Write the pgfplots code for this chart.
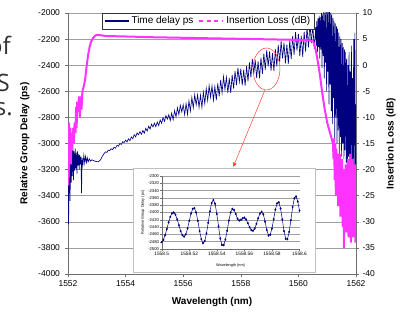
\documentclass[border=0pt]{standalone}
\usepackage{pgfplots}
\pgfplotsset{compat=1.18}
\usetikzlibrary{arrows.meta}
\usepackage{fontspec}
\setmainfont{Liberation Sans}
\newfontfamily\handfont{Open Sans}
\definecolor{navyb}{RGB}{0,0,128}
\definecolor{pinkm}{RGB}{255,51,255}
\definecolor{gridg}{RGB}{160,160,160}
\definecolor{axg}{RGB}{110,110,110}
\begin{document}
\begin{tikzpicture}[x=1pt,y=1pt]
\path (0,0) rectangle (401,316);

\begin{axis}[
  at={(68pt,42pt)}, anchor=south west,
  scale only axis, width=288pt, height=261pt,
  xmin=1552, xmax=1562, ymin=-4000, ymax=-2000,
  axis x line*=bottom, axis y line*=left,
  axis line style={-, axg, line width=0.6pt},
  xtick={1552,1554,1556,1558,1560,1562},
  xticklabels={1552,1554,1556,1558,1560,1562},
  ytick={-4000,-3800,-3600,-3400,-3200,-3000,-2800,-2600,-2400,-2200,-2000},
  yticklabels={-4000,-3800,-3600,-3400,-3200,-3000,-2800,-2600,-2400,-2200,-2000},
  tick align=outside, major tick length=3pt,
  tick style={axg, line width=0.6pt},
  tick label style={font=\fontsize{8.5}{10}\selectfont},
  yticklabel style={xshift=-1.5pt},
  ymajorgrids, major grid style={gridg, line width=0.6pt},
  xlabel={Wavelength (nm)}, ylabel={Relative Group Delay (ps)},
  label style={font=\bfseries\fontsize{10}{12}\selectfont},
  xlabel style={at={(axis description cs:0.5,-0.107)}, anchor=center},
  ylabel style={at={(axis description cs:-0.150,0.5)}, anchor=center},
]
\addplot[navyb, line width=0.65pt] table {
1552.00 -3100
1552.02 -3620
1552.04 -3180
1552.07 -3440
1552.09 -3120
1552.11 -3300
1552.13 -3050
1552.15 -3250
1552.17 -3030
1552.19 -3280
1552.21 -3060
1552.23 -3210
1552.25 -3040
1552.27 -3190
1552.29 -3070
1552.31 -3230
1552.33 -3060
1552.35 -3170
1552.37 -3080
1552.39 -3200
1552.41 -3090
1552.43 -3160
1552.45 -3100
1552.47 -3380
1552.49 -3110
1552.52 -3160
1552.55 -3090
1552.58 -3150
1552.61 -3100
1552.64 -3145
1552.67 -3110
1552.70 -3140
1552.74 -3118
1552.78 -3135
1552.83 -3125
1552.90 -3132
1552.97 -3138
1553.05 -3140
1553.12 -3128
1553.20 -3095
1553.25 -3078
1553.30 -3064
1553.35 -3068
1553.40 -3051
1553.45 -3054
1553.50 -3040
1553.55 -3046
1553.60 -3029
1553.65 -3036
1553.70 -3014
1553.75 -3021
1553.80 -3000
1553.85 -3007
1553.90 -2986
1553.95 -2993
1554.00 -2974
1554.05 -2988
1554.10 -2964
1554.15 -2978
1554.20 -2950
1554.25 -2963
1554.30 -2933
1554.35 -2949
1554.40 -2919
1554.45 -2933
1554.50 -2909
1554.55 -2930
1554.60 -2900
1554.65 -2921
1554.70 -2884
1554.75 -2904
1554.80 -2868
1554.85 -2889
1554.90 -2852
1554.95 -2873
1555.00 -2844
1555.05 -2871
1555.10 -2836
1555.15 -2863
1555.20 -2820
1555.25 -2845
1555.30 -2802
1555.35 -2830
1555.40 -2786
1555.45 -2813
1555.50 -2779
1555.55 -2824
1555.60 -2767
1555.65 -2818
1555.70 -2748
1555.75 -2796
1555.80 -2726
1555.85 -2778
1555.90 -2708
1555.95 -2758
1556.00 -2704
1556.05 -2779
1556.10 -2695
1556.15 -2777
1556.20 -2673
1556.25 -2751
1556.30 -2648
1556.35 -2727
1556.40 -2626
1556.45 -2705
1556.50 -2627
1556.55 -2723
1556.60 -2630
1556.65 -2723
1556.70 -2606
1556.75 -2695
1556.80 -2579
1556.85 -2670
1556.90 -2556
1556.95 -2646
1557.00 -2559
1557.05 -2668
1557.10 -2564
1557.15 -2668
1557.20 -2539
1557.25 -2639
1557.30 -2512
1557.35 -2611
1557.40 -2488
1557.45 -2586
1557.50 -2493
1557.55 -2611
1557.60 -2500
1557.65 -2612
1557.70 -2474
1557.75 -2580
1557.80 -2445
1557.85 -2553
1557.90 -2420
1557.95 -2527
1558.00 -2427
1558.05 -2555
1558.10 -2435
1558.15 -2556
1558.20 -2408
1558.25 -2523
1558.30 -2378
1558.35 -2494
1558.40 -2352
1558.45 -2467
1558.50 -2360
1558.55 -2498
1558.60 -2370
1558.65 -2501
1558.70 -2342
1558.75 -2466
1558.80 -2311
1558.85 -2436
1558.90 -2284
1558.95 -2408
1559.00 -2294
1559.05 -2442
1559.10 -2305
1559.15 -2445
1559.20 -2276
1559.25 -2409
1559.30 -2244
1559.35 -2377
1559.40 -2216
1559.45 -2348
1559.50 -2227
1559.55 -2385
1559.60 -2240
1559.65 -2390
1559.70 -2210
1559.75 -2352
1559.80 -2176
1559.85 -2320
1559.90 -2146
1559.95 -2289
1560.00 -2160
1560.05 -2330
1560.10 -2174
1560.15 -2336
1560.20 -2143
1560.25 -2296
1560.30 -2107
1560.35 -2263
1560.40 -2076
1560.45 -2231
1560.50 -2092
1560.55 -2276
1560.60 -2108
1560.62 -2250
1560.64 -2060
1560.66 -2300
1560.68 -2040
1560.70 -2260
1560.72 -2020
1560.74 -2350
1560.76 -2030
1560.78 -2280
1560.80 -2000
1560.82 -2420
1560.84 -2010
1560.86 -2330
1560.88 -1990
1560.90 -2500
1560.92 -2000
1560.94 -2380
1560.96 -1980
1560.98 -2600
1561.00 -1990
1561.02 -2450
1561.04 -1985
1561.06 -2700
1561.08 -1990
1561.10 -2550
1561.12 -2000
1561.14 -2750
1561.16 -2010
1561.18 -2850
1561.20 -2040
1561.22 -2650
1561.24 -2060
1561.26 -2980
1561.28 -2080
1561.30 -2800
1561.32 -2100
1561.34 -3000
1561.36 -2120
1561.38 -2900
1561.40 -2150
1561.42 -3080
1561.44 -2180
1561.46 -2950
1561.48 -2200
1561.50 -3100
1561.52 -2230
1561.54 -3000
1561.56 -2260
1561.58 -3120
1561.60 -2280
1561.62 -3050
1561.64 -2300
1561.66 -3150
1561.68 -2350
1561.70 -3200
1561.72 -2400
1561.74 -3100
1561.76 -2300
1561.78 -3230
1561.80 -2450
1561.82 -3180
1561.84 -2250
1561.86 -3220
1561.88 -2500
1561.90 -3200
1561.92 -2200
1561.94 -3230
1561.96 -2150
1561.98 -3200
1562.00 -2700
};
\coordinate (ellc) at (axis cs:1558.89,-2429);
\coordinate (arrs) at (axis cs:1558.84,-2590);
\coordinate (arre) at (axis cs:1557.74,-3178);
\end{axis}

\begin{axis}[
  at={(68pt,42pt)}, anchor=south west,
  scale only axis, width=288pt, height=261pt,
  xmin=1552, xmax=1562, ymin=-40, ymax=10,
  axis x line=none, axis y line*=right,
  axis line style={-, axg, line width=0.6pt},
  ytick={-40,-35,-30,-25,-20,-15,-10,-5,0,5,10},
  yticklabels={-40,-35,-30,-25,-20,-15,-10,-5,0,5,10},
  tick align=outside, major tick length=3pt,
  tick style={axg, line width=0.6pt},
  tick label style={font=\fontsize{8.5}{10}\selectfont},
  ylabel={Insertion Loss (dB)},
  label style={font=\bfseries\fontsize{10}{12}\selectfont},
  ylabel style={at={(axis description cs:1.1215,0.5)}, anchor=center},
  legend image code/.code={\draw[#1] (0pt,0pt) -- (24pt,0pt);},
  legend style={at={(axis description cs:0.118,1)}, anchor=north west,
    draw=black!80, line width=0.5pt, fill=white, inner sep=1.5pt,
    font=\fontsize{10}{11}\selectfont, legend columns=2,
    /tikz/every even column/.append style={column sep=3pt}},
]
\addlegendimage{navyb, line width=1.8pt}
\addlegendentry{Time delay ps}
\addlegendimage{pinkm, line width=2pt, dash pattern=on 4pt off 3.5pt}
\addlegendentry{Insertion Loss (dB)}
\addplot[pinkm, line width=2pt, forget plot] table {
1552.00 -12
1552.01 -23
1552.02 -14
1552.03 -20
1552.04 -11
1552.06 -17
1552.08 -12
1552.10 -19
1552.12 -13
1552.15 -16
1552.18 -12
1552.20 -15
1552.23 -11
1552.26 -13
1552.28 -8
1552.30 -12
1552.32 -7
1552.35 -9
1552.38 -6
1552.41 -10
1552.44 -6
1552.47 -8.5
1552.50 -5
1552.55 -4
1552.60 -2.5
1552.65 0
1552.70 2
1552.75 3.5
1552.80 4.5
1552.87 5.2
1552.95 5.7
1553.05 5.8
1553.30 5.6
1554.00 5.5
1555.00 5.35
1556.00 5.25
1557.00 5.15
1558.00 5.05
1559.00 4.95
1560.00 4.85
1560.40 4.75
1560.52 4.5
1560.60 3.0
1560.68 0.5
1560.75 -2
1560.82 -5
1560.90 -8
1561.00 -11
1561.10 -13
1561.20 -15
1561.22 -18
1561.24 -14
1561.26 -22
1561.28 -15
1561.30 -25
1561.32 -16
1561.34 -21
1561.36 -17
1561.38 -27
1561.40 -18
1561.42 -24
1561.44 -17
1561.46 -29
1561.48 -19
1561.50 -26
1561.52 -18
1561.54 -31
1561.56 -20
1561.58 -35
1561.60 -21
1561.62 -28
1561.64 -19
1561.66 -32
1561.68 -22
1561.70 -27
1561.72 -18
1561.74 -33
1561.76 -20
1561.78 -29
1561.80 -17
1561.82 -34
1561.84 -21
1561.86 -30
1561.88 -18
1561.90 -33
1561.92 -22
1561.94 -28
1561.96 -19
1561.98 -34
1562.00 -24
};
\end{axis}

\fill[white] (133,44) rectangle (315,148);
\draw[black!25, line width=0.5pt] (133,44) rectangle (315,148);
\begin{axis}[
  at={(161.7pt,67pt)}, anchor=south west,
  scale only axis, width=137.8pt, height=73pt,
  xmin=0, xmax=100, ymin=-2500, ymax=-2300,
  axis x line*=bottom, axis y line*=left,
  axis line style={-, axg, line width=0.4pt},
  xtick={0,20,40,60,80,100},
  xticklabels={1558.5,1558.52,1558.54,1558.56,1558.58,1558.6},
  ytick={-2500,-2480,-2460,-2440,-2420,-2400,-2380,-2360,-2340,-2320,-2300},
  yticklabels={-2500,-2480,-2460,-2440,-2420,-2400,-2380,-2360,-2340,-2320,-2300},
  tick align=outside, major tick length=1.5pt,
  tick style={axg, line width=0.4pt},
  xticklabel style={font=\fontsize{4.8}{5}\selectfont, inner sep=1pt},
  yticklabel style={font=\fontsize{4.2}{5}\selectfont, inner sep=1pt},
  ymajorgrids, major grid style={gridg, line width=0.6pt},
  xlabel={Wavelength (nm)}, ylabel={Relative Group Delay (ps)},
  label style={font=\fontsize{3.8}{4}\selectfont},
  xlabel style={at={(axis description cs:0.5,-0.22)}, anchor=center},
  ylabel style={at={(axis description cs:-0.136,0.5)}, anchor=center},
]
\addplot[navyb, line width=0.5pt, mark=diamond*, mark size=0.9pt, mark options={navyb}] table {
0 -2481
1.25 -2475
2.5 -2462
3.75 -2445
5 -2427
6.25 -2412
7.5 -2402
8.75 -2400
10 -2406
11.25 -2419
12.5 -2435
13.75 -2451
15 -2462
16.25 -2466
17.5 -2460
18.75 -2444
20 -2423
21.25 -2403
22.5 -2390
23.75 -2388
25 -2400
26.25 -2423
27.5 -2451
28.75 -2473
30 -2484
31.25 -2478
32.5 -2457
33.75 -2428
35 -2397
36.25 -2374
37.5 -2366
38.75 -2376
40 -2404
41.25 -2438
42.5 -2471
43.75 -2489
45 -2489
46.25 -2474
47.5 -2450
48.75 -2422
50 -2400
51.25 -2390
52.5 -2393
53.75 -2404
55 -2417
56.25 -2422
57.5 -2420
58.75 -2416
60 -2414
61.25 -2419
62.5 -2429
63.75 -2440
65 -2448
66.25 -2450
67.5 -2444
68.75 -2431
70 -2416
71.25 -2403
72.5 -2398
73.75 -2405
75 -2425
76.25 -2448
77.5 -2463
78.75 -2461
80 -2444
81.25 -2418
82.5 -2392
83.75 -2375
85 -2372
86.25 -2389
87.5 -2419
88.75 -2451
90 -2472
91.25 -2473
92.5 -2453
93.75 -2421
95 -2385
96.25 -2361
97.5 -2356
98.75 -2370
100 -2395
};
\end{axis}

\draw[red!75, line width=0.5pt] (ellc) ellipse [x radius=13.5pt, y radius=21pt];
\draw[red!75, line width=0.5pt, -{Triangle[length=4pt,width=4pt]}] (arrs) -- (arre);

\begin{scope}[overlay]
\node[anchor=base east, font=\handfont\fontsize{24}{24}\selectfont, text=black!80, inner sep=0pt] at (11,261) {of};
\node[anchor=base east, font=\handfont\fontsize{24}{24}\selectfont, text=black!80, inner sep=0pt] at (10,224) {S};
\node[anchor=base east, font=\handfont\fontsize{24}{24}\selectfont, text=black!80, inner sep=0pt] at (13,200) {s.};
\end{scope}
\end{tikzpicture}
\end{document}
